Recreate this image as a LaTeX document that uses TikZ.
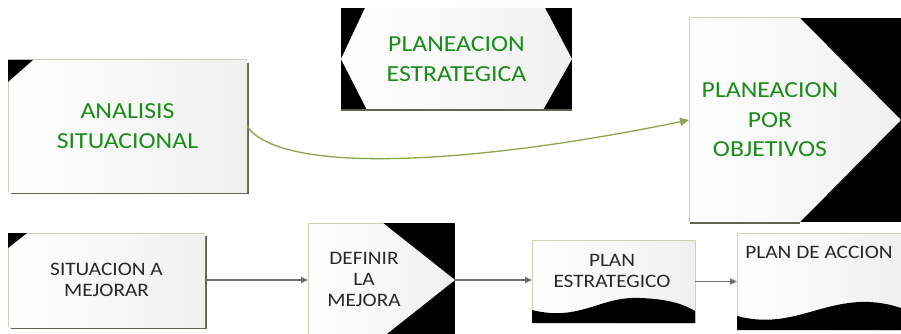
\documentclass[tikz,border=0pt]{standalone}
\usepackage{fontspec}
\setmainfont{Carlito}[FakeStretch=1.12]
\usetikzlibrary{arrows.meta,calc,backgrounds}
\definecolor{tgreen}{RGB}{25,140,25}
\definecolor{olivec}{RGB}{140,165,75}
\definecolor{rimc}{RGB}{205,210,180}
\definecolor{shad}{RGB}{95,100,85}
\definecolor{arrc}{RGB}{110,110,110}
\definecolor{btxt}{RGB}{40,40,40}
\begin{document}
\begin{tikzpicture}[x=1pt,y=-1pt,
  every node/.style={inner sep=0pt,outer sep=0pt},
  area/.style 2 args={minimum width=#1,minimum height=#2},
  gtxt/.style={text=tgreen,font=\fontsize{23}{29.5}\selectfont,align=center},
  btx/.style={text=btxt,font=\fontsize{19}{21}\selectfont,align=center},
  flow/.style={draw=arrc,line width=1.3pt,-{Triangle[length=7pt,width=6pt]}},
  curvearr/.style={draw=olivec,line width=1.3pt,-{Triangle[length=9pt,width=8pt]}},
  fillw/.style={left color=white,right color=gray!12},
  rim/.style={draw=rimc,line width=1pt},
  shadowline/.style={draw=shad,line width=2pt}
]
\clip (0,0) rectangle (901,334);

% nodes
\node[gtxt,area={239}{132}] (an) at (127.5,126) {ANALISIS\\SITUACIONAL};
\node[gtxt,area={231}{102}] (ps) at (456.5,59) {PLANEACION\\ESTRATEGICA};
\node[area={212}{204}] (po) at (795,120) {};
\node[gtxt] (pot) at (770,120) {PLANEACION\\POR\\OBJETIVOS};
\node[btx,area={197}{94}] (sit) at (106.5,280) {SITUACION A\\MEJORAR};
\node[area={147}{114}] (def) at (381.5,280) {};
\node[btx] (deft) at (364,279) {DEFINIR\\LA\\MEJORA};
\node[area={163}{83}] (pe) at (613.5,281.5) {};
\node[btx] (pet) at (612,270.5) {PLAN\\ESTRATEGICO};
\node[area={164}{97}] (pa) at (819,281.5) {};
\node[btx] (pat) at (819,252) {PLAN DE ACCION};

\begin{scope}[on background layer]
  \fill[white] (0,0) rectangle (901,334);
  % ANALISIS SITUACIONAL
  \draw[shadowline] ($(an.north east)+(1,3)$) -- ($(an.south east)+(1,1)$) -- ($(an.south west)+(3,1)$);
  \shade[fillw] (an.north west) rectangle (an.south east);
  \draw[rim] (an.south west) -- (an.north west) -- (an.north east);
  \fill[black] (an.north west) -- ++(25,0) -- ++(-25,22) -- cycle;

  % PLANEACION ESTRATEGICA
  \fill[black] (ps.north west) rectangle (ps.south east);
  \shade[fillw] (ps.west) -- ($(ps.north west)+(24,0)$) -- ($(ps.north east)+(-27,0)$)
     -- (ps.east) -- ($(ps.south east)+(-29,0)$) -- ($(ps.south west)+(26,0)$) -- cycle;
  \draw[shad,line width=1.5pt] (ps.south west) -- (ps.south east);

  % PLANEACION POR OBJETIVOS
  \fill[black] ($(po.north west)+(111,0)$) rectangle (po.south east);
  \shade[fillw] (po.north west) -- ++(111,0) -- (po.east) -- ($(po.south west)+(111,0)$)
     -- (po.south west) -- cycle;
  \draw[rim] (po.south west) -- (po.north west) -- ++(111,0);
  \draw[shadowline] ($(po.south west)+(1,1)$) -- ++(110,0);

  % SITUACION A MEJORAR
  \draw[shadowline] ($(sit.north east)+(1,3)$) -- ($(sit.south east)+(1,1)$) -- ($(sit.south west)+(3,1)$);
  \shade[fillw] (sit.north west) rectangle (sit.south east);
  \draw[rim] (sit.south west) -- (sit.north west) -- (sit.north east);
  \fill[black] (sit.north west) -- ++(19,0) -- ++(-19,15) -- cycle;

  % DEFINIR LA MEJORA
  \fill[black] ($(def.north west)+(75,0)$) rectangle (def.south east);
  \shade[fillw] (def.north west) -- ++(75,0) -- (def.east) -- ($(def.south west)+(75,0)$)
     -- (def.south west) -- cycle;
  \draw[rim] (def.south west) -- (def.north west) -- ++(75,0);

  % PLAN ESTRATEGICO
  \shade[fillw] (pe.north west) rectangle (pe.south east);
  \draw[rim] (pe.south west) -- (pe.north west) -- (pe.north east) -- (pe.south east);
  \begin{scope}[shift={(pe.south west)}]
    \fill[black] (0,-13) .. controls (48,-1) and (68,-27) .. (108,-25)
       .. controls (138,-24) and (153,-18) .. (163,-12) -- (163,0) -- (0,0) -- cycle;
  \end{scope}

  % PLAN DE ACCION
  \shade[fillw] (pa.north west) rectangle (pa.south east);
  \draw[rim] (pa.south west) -- (pa.north west) -- (pa.north east);
  \begin{scope}[shift={(pa.south west)}]
    \fill[black] (0,-14) .. controls (53,0) and (83,-30) .. (133,-28)
       .. controls (148,-27) and (158,-24) .. (164,-22) -- (164,0) -- (0,0) -- cycle;
  \end{scope}
\end{scope}

% connectors
\draw[curvearr] (an.east) .. controls +(33,49) and +(-219,45) .. (po.west);
\draw[flow] (sit.east) -- (def.west);
\draw[flow] (def.east) -- (def.east -| pe.west);
\draw[flow] (pe.east) -- (pa.west);
\end{tikzpicture}
\end{document}
